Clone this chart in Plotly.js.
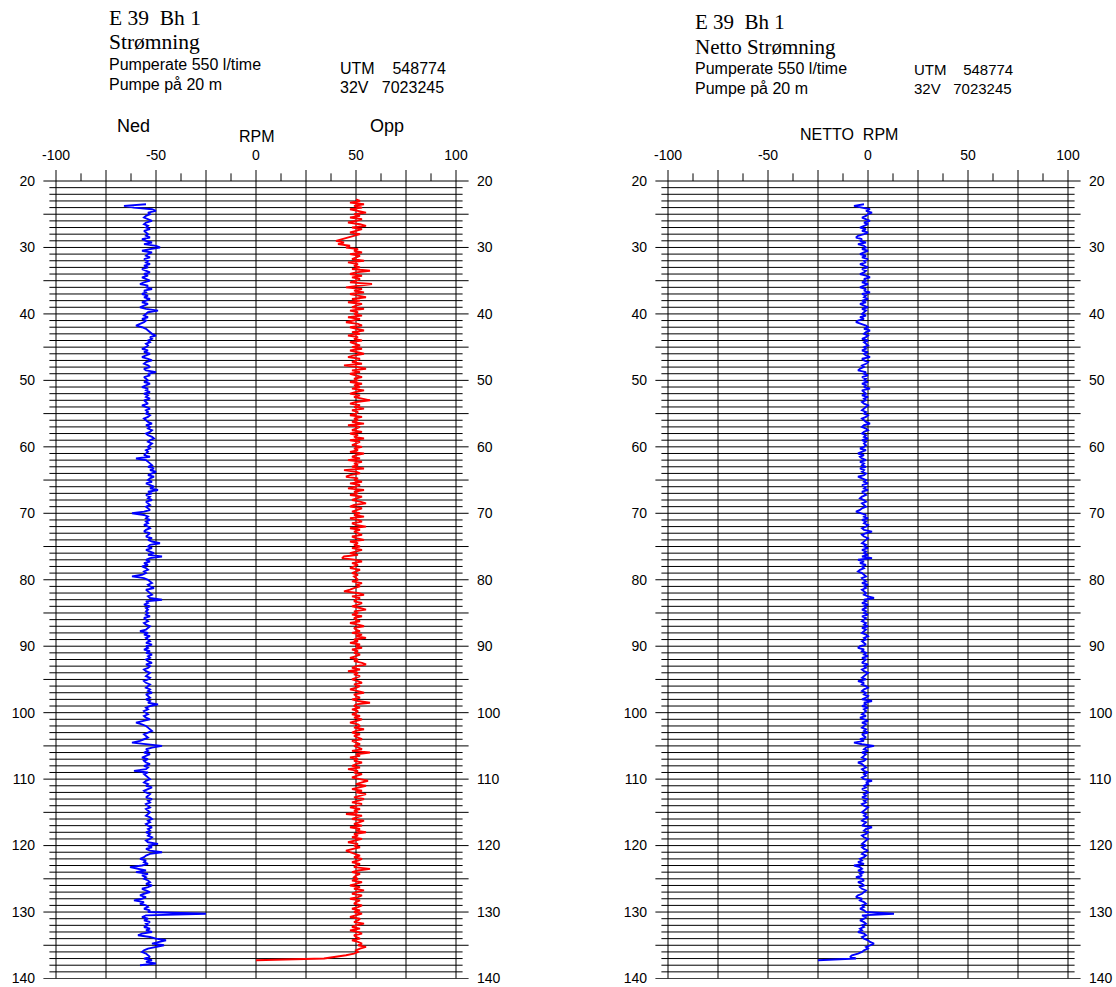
<!DOCTYPE html>
<html><head><meta charset="utf-8">
<script src="https://cdn.plot.ly/plotly-3.0.1.min.js"></script>
<style>html,body{margin:0;padding:0;background:#fff;} #chart{width:1116px;height:987px;}</style>
</head><body><div id="chart"></div>
<script>
// ---------------- DATA ----------------
const step = 0.25;           // depth sampling (m)
const nedStart = 23.5;       // first depth of "Ned" series
const oppStart = 22.75;      // first depth of "Opp" series
const nettoStart = 23.5;     // first depth of "Netto" series

// RPM, flow down (Ned)
const ned = [
 -55,-66,-61,-52,-50,-54,
 -53,-55,-56,-54,-52,-55,-56,-54,-55,-53,-56,-55,-54,-55,-53,-57,-55,-52,-56,-50,
 -48,-53,-57,-52,-54,-55,-53,-56,-54,-55,-53,-56,-54,-57,-55,-53,-56,-54,-57,-55,
 -53,-56,-58,-54,-55,-52,-56,-55,-57,-54,-56,-53,-55,-57,-54,-56,-58,-55,-49,-54,
 -55,-56,-54,-57,-55,-56,-58,-60,-57,-55,-54,-53,-52,-50,-53,-52,-54,-53,-55,-54,
 -55,-57,-54,-56,-53,-55,-57,-54,-52,-55,-56,-54,-53,-56,-55,-50,-54,-53,-56,-55,
 -54,-56,-53,-55,-57,-54,-55,-53,-56,-54,-55,-53,-56,-55,-54,-57,-55,-53,-55,-54,
 -55,-53,-54,-56,-55,-54,-52,-55,-53,-54,-52,-53,-55,-54,-52,-51,-53,-54,-52,-53,
 -54,-53,-55,-54,-55,-56,-53,-60,-55,-54,-53,-52,-54,-51,-53,-50,-52,-54,-51,-53,
 -54,-52,-55,-53,-51,-53,-49,-54,-52,-55,-53,-54,-52,-55,-54,-53,-55,-54,-53,-56,
 -62,-56,-54,-55,-53,-55,-54,-56,-54,-53,-55,-56,-53,-54,-55,-52,-54,-52,-48,-53,
 -54,-52,-55,-53,-51,-54,-47,-53,-55,-53,-56,-54,-57,-55,-54,-56,-55,-57,-62,-56,
 -54,-53,-52,-54,-53,-51,-55,-54,-53,-52,-54,-53,-47,-55,-54,-56,-53,-55,-54,-55,
 -54,-55,-53,-56,-55,-54,-56,-55,-53,-54,-55,-58,-54,-56,-53,-55,-54,-53,-55,-52,
 -55,-54,-56,-53,-55,-52,-54,-53,-55,-54,-52,-55,-53,-54,-56,-55,-53,-54,-55,-53,
 -54,-56,-55,-53,-54,-55,-53,-54,-52,-55,-54,-53,-55,-53,-54,-49,-53,-55,-54,-56,
 -55,-54,-56,-55,-53,-56,-60,-57,-55,-54,-53,-52,-54,-56,-55,-54,-56,-58,-62,-53,
 -47,-52,-55,-54,-56,-53,-55,-57,-54,-56,-55,-53,-56,-54,-55,-61,-54,-56,-55,-54,
 -53,-55,-56,-54,-55,-52,-54,-56,-55,-53,-54,-55,-52,-54,-53,-55,-54,-53,-55,-54,
 -53,-54,-55,-53,-52,-54,-53,-55,-54,-52,-54,-53,-55,-53,-54,-52,-53,-55,-54,-49,
 -54,-52,-55,-53,-47,-53,-55,-56,-58,-55,-56,-54,-57,-63,-58,-55,-60,-54,-57,-55,
 -56,-54,-53,-55,-52,-54,-57,-55,-53,-56,-58,-55,-57,-61,-56,-58,-55,-54,-56,-53,
 -54,-25,-55,-57,-54,-56,-53,-55,-54,-56,-53,-55,-52,-57,-59,-53,-50,-45,-48,-52,
 -46,-51,-54,-56,-57,-55,-54,-53,-56,-52,-55,-50,-58
];

// RPM, flow up (Opp)
const opp = [
 50,52,47,54,49,53,47,51,55,
 49,52,47,53,50,46,52,55,48,53,50,47,52,49,46,42,40,44,41,47,
 45,51,49,53,47,52,50,48,54,46,51,49,52,48,57,50,47,53,48,52,
 50,47,58,52,45,53,49,54,47,51,55,48,52,46,53,50,48,54,47,51,
 49,53,46,52,48,45,51,53,47,50,54,48,52,46,51,49,53,47,50,52,
 48,53,47,51,54,49,46,52,50,48,53,44,51,55,48,52,47,50,53,49,
 51,47,53,49,52,48,54,50,47,52,49,53,57,50,47,52,49,54,48,51,
 50,47,53,49,51,48,54,46,52,50,48,53,47,51,49,54,47,52,50,48,
 53,49,51,47,54,50,48,52,46,53,49,51,48,54,44,50,52,47,45,51,
 49,53,47,52,50,46,54,49,51,47,53,50,48,52,55,49,47,53,50,48,
 52,49,54,47,51,53,48,50,55,47,52,49,51,53,48,50,54,47,51,49,
 52,48,53,50,47,51,44,43,50,53,48,51,49,47,52,50,48,51,49,50,
 51,48,53,50,52,49,47,44,51,54,48,52,50,49,53,51,48,52,55,49,
 51,48,53,49,50,52,47,51,54,49,50,52,48,53,50,55,49,51,47,52,
 50,53,48,51,49,52,50,47,51,49,53,55,50,48,52,46,51,49,52,50,
 48,51,53,49,52,50,47,51,54,49,50,52,48,51,57,50,49,52,48,51,
 50,48,52,49,53,50,47,51,52,49,54,50,48,52,49,51,53,48,50,52,
 49,51,53,48,57,50,52,47,51,49,53,50,48,52,46,51,49,53,50,48,
 52,56,53,50,55,51,48,53,50,55,52,49,54,51,48,53,50,47,52,49,
 51,45,53,50,48,54,51,49,53,47,52,50,55,49,51,48,53,50,46,51,
 49,52,48,45,47,50,52,49,53,51,48,52,50,49,57,51,48,52,50,49,
 51,48,53,50,47,52,49,54,50,48,53,51,47,52,50,49,53,51,48,52,
 49,53,50,47,52,51,49,54,50,48,52,47,51,53,49,50,52,48,51,53,
 51,55,52,50,51,49,45,38,34,0
];

// Netto RPM
const netto = [
 -2,-7,-3,1,-1,2,
 0,-1,-3,-1,1,-2,0,-2,-4,-1,-3,0,-2,-5,-6,-3,-4,-1,-5,-2,
 -1,-3,0,-2,-4,-1,-3,0,-2,-1,-4,-2,0,-3,-1,-2,-4,-1,1,-2,
 -1,-3,0,-2,-4,-1,-2,1,-3,-1,-2,0,-3,-1,-4,-2,0,-3,-1,-2,
 -3,-1,-4,-2,-5,-6,-3,-1,0,-2,1,-1,-2,0,-1,-3,0,-2,-1,0,
 -2,-1,-3,0,-2,-1,1,-3,-2,0,-1,-3,-2,-4,-5,-1,-2,0,-3,-1,
 -2,0,-3,-1,-2,1,-3,-2,-1,-3,0,-2,-1,-3,-2,0,-1,-2,-3,-1,
 -2,0,-1,-3,-2,-1,1,-2,-3,-1,0,-2,-3,-1,-2,0,-3,-1,-2,-1,
 -2,-4,-1,-3,-5,-2,-4,-3,-1,-4,-2,-3,-1,-4,-2,-3,-1,-2,-5,-3,
 -1,-2,0,-3,-1,-2,0,-3,-2,-1,-3,-4,-2,-1,-3,-2,-1,-3,-4,-6,
 -3,-1,-2,0,-3,-1,-2,0,-1,-3,-2,2,-1,-3,-2,0,-1,-2,-3,-1,
 -2,0,-3,-1,-2,0,-3,2,-5,-2,-4,-1,-3,-2,-4,-5,-3,-2,-1,-3,
 -2,-1,-3,0,-2,-1,-3,-2,-1,-2,0,3,-2,-1,-3,0,-2,-1,-3,-1,
 -2,0,-3,-1,-2,-3,-1,-2,0,-3,-1,-2,-3,-1,0,-2,-1,-3,-2,-1,
 -4,-5,-2,-3,-1,-2,0,-3,-1,-2,-3,0,-2,-1,-3,-2,0,-1,-2,-3,
 -1,-5,-2,-3,-1,0,-2,-3,-1,-2,0,-1,-3,2,-2,-1,-3,0,-2,-1,
 -2,-3,-1,-4,-2,0,-3,-1,-2,-3,-1,-2,0,-3,-2,-1,-4,-2,-7,-3,
 3,-1,-2,0,-3,-1,-2,-3,-1,-2,-5,-3,-2,-1,-3,-2,0,-2,-1,-3,
 -2,2,-1,0,-2,-1,-3,-1,0,-2,-1,-3,0,-2,-1,-3,-2,0,-1,-2,
 -3,-1,-2,0,-2,-3,-1,-2,-3,2,-1,-2,0,-1,-3,-2,0,-1,-2,-3,
 -1,-3,-2,0,-2,-3,-1,-2,-4,-3,-5,-2,-7,-4,-3,-5,-2,-4,-3,-6,
 -3,-2,-5,-3,-2,-4,-3,-1,-2,-3,-5,-6,-3,-4,-2,-1,-3,-2,-4,-2,
 -1,13,-3,-1,-2,-4,-2,-1,-3,-2,-4,-3,-5,-2,-1,-3,-2,0,1,3,
 1,-1,0,-2,-3,-5,-8,-9,-6,-25
];

const xTickVals = [-100, -50, 0, 50, 100];
const xTickText = ['-100', '-50', '0', '50', '100'];
const depthTickVals = [20, 30, 40, 50, 60, 70, 80, 90, 100, 110, 120, 130, 140];
const depthTickText = ['20','30','40','50','60','70','80','90','100','110','120','130','140'];
const vGridVals = [-100, -75, -50, -25, 0, 25, 50, 75, 100];
const minorTickVals = [-87.5, -62.5, -37.5, -12.5, 12.5, 37.5, 62.5, 87.5];
const depthMin = 20, depthMax = 140;

// ---------------- LAYOUT ----------------
const W = 1116, H = 987;
const SANS = 'Liberation Sans, Arial, Helvetica, sans-serif';
const SERIF = 'Liberation Serif, Times New Roman, serif';
const y20Px = 181, y140Px = 978.5;            // pixel rows of depth 20 and depth 140
const pxPerM = (y140Px - y20Px) / (depthMax - depthMin);
const yTopPx = 170;
const rangePad = 0.05;                       // keeps the 140 tick inside the range
const yBotPx = y140Px + rangePad * pxPerM;
const yTopVal = depthMin - (y20Px - yTopPx) / pxPerM;
const xRange = [-106.5, 106.5];
const yRange = [depthMax + rangePad, yTopVal];
const yDomain = [1 - yBotPx / H, 1 - yTopPx / H];
const leftDomain = [43 / W, 469 / W];
const rightDomain = [655 / W, 1081 / W];

function depthsFor(start, n) {
  const a = [];
  for (let i = 0; i < n; i++) a.push(Math.round((start + i * step) * 100) / 100);
  return a;
}

const lineTrace = (xs, start, color, xa, ya) => ({
  type: 'scatter', mode: 'lines', x: xs, y: depthsFor(start, xs.length),
  xaxis: xa, yaxis: ya, line: {color: color, width: 1.9}, hoverinfo: 'skip', showlegend: false
});
const dummy = (xa, ya) => ({type: 'scatter', mode: 'markers', x: [0], y: [depthMin],
  xaxis: xa, yaxis: ya, marker: {opacity: 0, size: 1}, hoverinfo: 'skip', showlegend: false});

const traces = [
  lineTrace(ned, nedStart, '#0000ff', 'x', 'y'),
  lineTrace(opp, oppStart, '#ff0000', 'x', 'y'),
  lineTrace(netto, nettoStart, '#0000ff', 'x2', 'y2'),
  dummy('x', 'y3'),
  dummy('x2', 'y4')
];

function gridShapes(xr, yr) {
  const s = [];
  const ln = {color: '#000', width: 1};
  for (let d = depthMin; d <= depthMax; d++) {
    const major = d % 5 === 0;
    const ext = major ? 106.3 : 103.3;
    s.push({type: 'line', xref: xr, yref: yr, x0: -ext, x1: ext, y0: d, y1: d, line: ln, layer: 'below'});
  }
  vGridVals.forEach(v => s.push({type: 'line', xref: xr, yref: yr, x0: v, x1: v, y0: yTopVal, y1: depthMax, line: ln, layer: 'below'}));
  minorTickVals.forEach(v => s.push({type: 'line', xref: xr, yref: yr, x0: v, x1: v, y0: depthMin - 1.15, y1: depthMin, line: ln, layer: 'below'}));
  return s;
}

const tickFont = {family: SANS, size: 14, color: '#000'};
const xAxisBase = {range: xRange, side: 'top', tickvals: xTickVals, ticktext: xTickText, ticks: '',
  showgrid: false, zeroline: false, showline: false, tickfont: tickFont, fixedrange: true, ticklabelstandoff: 6};
const yAxisBase = {range: yRange, domain: yDomain, tickvals: depthTickVals, ticktext: depthTickText, ticks: '',
  showgrid: false, zeroline: false, showline: false, tickfont: tickFont, fixedrange: true, ticklabelstandoff: 7,
  ticklabeloverflow: 'allow'};

function ann(text, xPx, basePx, size, family) {
  return {text: text, xref: 'paper', yref: 'paper', x: xPx / W, y: 1 - (basePx - 0.35 * size) / H,
    xanchor: 'left', yanchor: 'middle', showarrow: false, font: {family: family, size: size, color: '#000'}};
}
const sp = n => '\u00a0'.repeat(n);

const annotations = [
  ann('E 39' + sp(2) + 'Bh 1', 107, 25.4, 21.5, SERIF),
  ann('Strømning', 107, 49.6, 21.5, SERIF),
  ann('Pumperate 550 l/time', 107, 70.5, 16, SANS),
  ann('Pumpe på 20 m', 107, 89.8, 16, SANS),
  ann('UTM' + sp(4) + '548774', 338, 74.3, 16, SANS),
  ann('32V' + sp(3) + '7023245', 338, 93.5, 16, SANS),
  ann('Ned', 115, 132.7, 18, SANS),
  ann('RPM', 237, 141.7, 16, SANS),
  ann('Opp', 368, 132.7, 18, SANS),
  ann('E 39' + sp(2) + 'Bh 1', 693, 29.8, 21, SERIF),
  ann('Netto Strømning', 693, 54.0, 21, SERIF),
  ann('Pumperate 550 l/time', 693, 74.5, 16, SANS),
  ann('Pumpe på 20 m', 693, 93.8, 16, SANS),
  ann('UTM' + sp(4) + '548774', 912, 74.5, 15, SANS),
  ann('32V' + sp(3) + '7023245', 912, 93.8, 15, SANS),
  ann('NETTO' + sp(2) + 'RPM', 798, 140, 16, SANS)
];

const layout = {
  width: W, height: H, margin: {l: 0, r: 0, t: 0, b: 0},
  paper_bgcolor: '#fff', plot_bgcolor: 'rgba(0,0,0,0)', showlegend: false,
  font: {family: SANS, color: '#000'},
  xaxis: Object.assign({}, xAxisBase, {domain: leftDomain, anchor: 'y'}),
  xaxis2: Object.assign({}, xAxisBase, {domain: rightDomain, anchor: 'y2'}),
  yaxis: Object.assign({}, yAxisBase, {anchor: 'x', side: 'left'}),
  yaxis3: Object.assign({}, yAxisBase, {anchor: 'x', side: 'right', overlaying: 'y'}),
  yaxis2: Object.assign({}, yAxisBase, {anchor: 'x2', side: 'left'}),
  yaxis4: Object.assign({}, yAxisBase, {anchor: 'x2', side: 'right', overlaying: 'y2'}),
  shapes: gridShapes('x', 'y').concat(gridShapes('x2', 'y2')),
  annotations: annotations
};

Plotly.newPlot('chart', traces, layout, {displayModeBar: false, staticPlot: true});
</script>
</body></html>
